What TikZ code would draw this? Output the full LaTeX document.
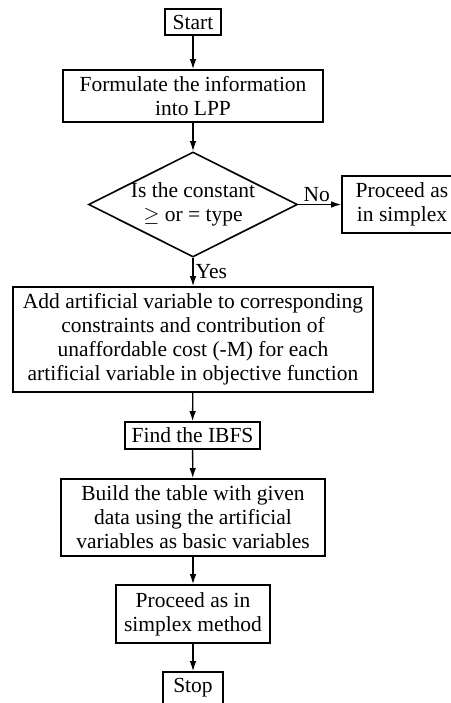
\documentclass[tikz,border=0pt]{standalone}
\usepackage{fontspec}
\setmainfont{Liberation Serif}
\usetikzlibrary{shapes.geometric,arrows.meta}

\newcommand*{\picw}{450}
\newcommand*{\pich}{703}

\begin{document}
\begin{tikzpicture}[x=1pt,y=1pt,
	every node/.style={font=\fontsize{21.5}{24}\selectfont},
	box/.style={draw,line width=1.6pt,align=center,inner sep=0pt},
	decision/.style={draw,diamond,aspect=1.97,line width=1.6pt,align=center,inner sep=-8pt},
	flow/.style={-{Latex[length=10pt,width=6.5pt]},line width=1.3pt}]

	\useasboundingbox (0,0) rectangle (\picw,-\pich);

	% steps
	\node[box,minimum width=56,minimum height=26] (start) at (193,-22) {Start};
	\node[box,minimum width=260,minimum height=52] (form) at (193,-96) {Formulate the information\\into LPP};
	\node[decision,minimum width=209,minimum height=105] (test) at (193,-204.5) {Is the constant\\$\geq$ or = type};
	\node[box,minimum width=120,minimum height=57] (other) at (402,-204.5) {Proceed as\\in simplex};
	\node[box,minimum width=360,minimum height=105] (artif) at (193,-339.5) {Add artificial variable to corresponding\\constraints and contribution of\\unaffordable cost (-M) for each\\artificial variable in objective function};
	\node[box,minimum width=135,minimum height=27] (ibfs) at (192.5,-435.5) {Find the IBFS};
	\node[box,minimum width=264,minimum height=77] (table) at (193,-517.5) {Build the table with given\\data using the artificial\\variables as basic variables};
	\node[box,minimum width=154,minimum height=58] (simplex) at (193,-614) {Proceed as in\\simplex method};
	\node[box,minimum width=60,minimum height=32] (stop) at (193,-688) {Stop};

	% arrows
	\draw[flow] (start) -- (form);
	\draw[flow] (form) -- (test);
	\draw[flow] (test) -- (other) node[midway,above,inner sep=2pt,xshift=-3pt] (no) {No};
	\draw[flow] (test) -- (artif) node[midway,right,inner sep=2pt] (yes) {Yes};
	\draw[flow] (artif) -- (ibfs);
	\draw[flow] (ibfs) -- (table);
	\draw[flow] (table) -- (simplex);
	\draw[flow] (simplex) -- (stop);

\end{tikzpicture}
\end{document}
